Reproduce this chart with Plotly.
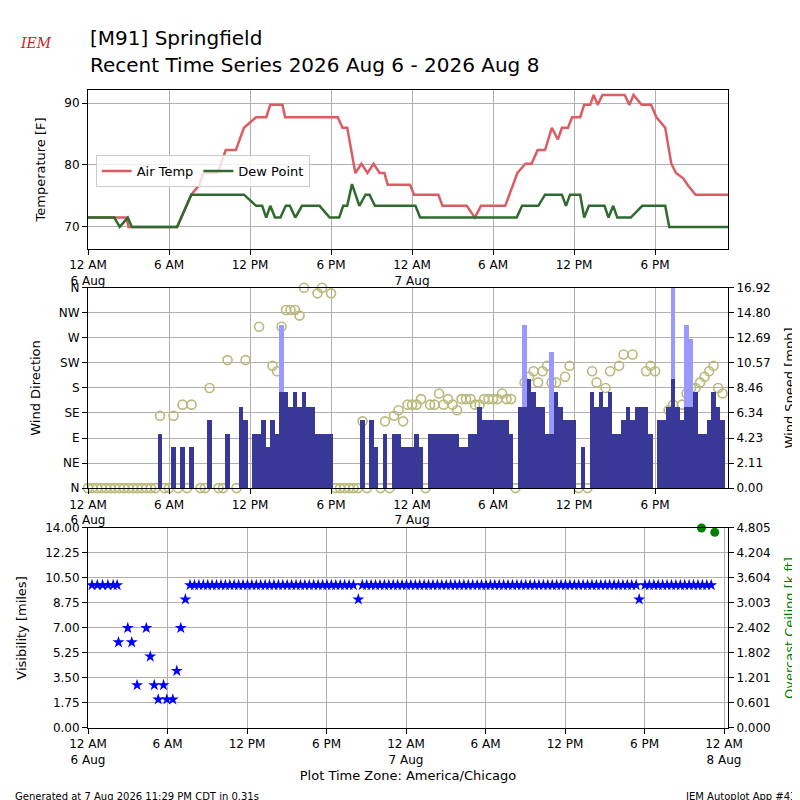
import plotly.graph_objects as go

# ---------------- data ----------------
temp_hours = [0,2.85,3.0,6.6,7.65,8.25,8.55,9.6,10.2,10.95,11.55,12.45,13.2,13.5,14.4,14.6,18.5,18.85,19.2,19.8,20.25,20.7,21.15,21.6,21.95,22.2,23.85,24.15,25.95,26.25,28.05,28.65,29.1,30.9,31.8,32.4,32.85,33.3,33.85,34.35,34.8,35.1,35.55,35.85,36.45,36.75,37.2,37.45,37.75,38.1,39.75,40.1,40.4,41.0,41.7,42.1,42.75,43.2,43.55,44.1,44.4,45.0,45.6,47.4]
temp_vals = [71.5,71.5,70,70,75.2,76.8,78.7,78.7,82.4,82.4,86,87.7,87.7,89.7,89.7,87.7,87.7,86,86,78.7,80.2,78.7,80.2,78.7,78.7,76.8,76.8,75.2,75.2,73.4,73.4,71.5,73.4,73.4,78.7,80.2,80.2,82.4,82.4,86,84.1,86,86,87.7,87.7,89.7,89.7,91.3,89.7,91.3,91.3,89.7,91.3,89.7,89.7,87.7,86,80.2,78.7,77.8,76.8,75.2,75.2,75.2]
dew_hours = [0,1.95,2.35,2.95,3.25,6.6,7.65,11.55,12.45,12.9,13.2,13.5,13.85,14.25,14.65,14.95,15.35,15.85,17.15,17.9,18.6,18.9,19.2,19.55,20.1,20.55,20.85,21.25,24.25,24.6,31.75,32.15,33.35,33.85,35.1,35.4,35.7,36.45,36.75,37.1,38.25,38.55,38.9,39.2,40.2,41.05,42.75,43.05,47.4]
dew_vals = [71.5,71.5,70,71.5,70,70,75.2,75.2,73.4,73.4,71.5,73.4,71.5,71.5,73.4,73.4,71.5,73.4,73.4,71.5,71.5,73.4,73.4,76.9,73.4,75.2,75.2,73.4,73.4,71.5,71.5,73.4,73.4,75.2,75.2,73.4,75.2,75.2,71.5,73.4,73.4,71.5,73.4,71.5,71.5,73.4,73.4,70,70]

# wind observations every 20 minutes (slot index / 3 = hour)
wind_speed = [0]*16 + [4.6,0,0,3.5,0,3.5,0,3.5,0,0,0,5.8,0,0,0,4.6,0,0,6.9,5.8,0,
    4.6,4.6,5.8,3.5,5.8,4.6,8.1,8.1,6.9,8.1,6.9,8.1,6.9,6.9,4.6,4.6,4.6,4.6,
    0,0,0,0,0,0,5.8,0,5.8,3.5,0,4.6,0,4.6,4.6,3.5,3.5,3.5,4.6,3.5,0,
    4.6,4.6,4.6,4.6,4.6,4.6,4.6,3.5,3.5,4.6,4.6,6.9,5.8,5.8,5.8,5.8,5.8,5.8,4.6,0,
    6.9,6.9,9.2,8.1,6.9,6.9,4.6,4.6,8.1,6.9,5.8,5.8,5.8,0,3.5,0,
    8.1,6.9,8.1,6.9,8.1,4.6,4.6,5.8,6.9,5.8,6.9,6.9,6.9,4.6,0,
    5.8,5.8,6.9,9.2,6.9,5.8,6.9,6.9,8.1,4.6,4.6,5.8,8.1,6.9,5.8]
N = None
wind_dir = [0]*16 + [130,0,0,130,0,150,0,150,N,0,0,180,N,0,0,230,N,0,N,230,N,
    N,290,N,N,220,210,290,320,320,320,310,360,N,10,350,360,N,350,
    0,0,0,0,0,0,120,0,N,N,0,120,0,130,140,120,150,150,150,160,0,
    150,150,170,150,160,150,140,160,160,160,150,150,160,160,160,160,170,160,160,0,
    N,190,200,210,190,210,220,190,190,N,200,220,N,0,N,0,
    210,190,N,180,210,N,220,240,N,240,N,N,210,220,210,
    N,N,140,150,N,150,170,180,180,190,200,210,220,180,170]
gust_slots = [43,97,103,130,133,134]
gust_vals = [13.8,13.8,11.5,16.9,13.8,12.6]

vis_hours = [0.3,0.7,1.1,1.5,1.9,2.2,2.3,3.0,3.3,3.7,4.4,4.7,5.0,5.3,5.7,5.95,6.4,6.7,7.0,7.35,20.4,41.6]
vis_vals = [10,10,10,10,10,10,6,7,6,3,7,5,3,2,3,2,2,4,7,9,9,9]
vis10_start, vis10_end = 7.7, 47.3   # steady 10 mile reports every 20 min
ceil_hours = [46.3, 47.3]
ceil_vals = [4.805, 4.70]

# ---------------- build ----------------
slot_h = 1/3
wh = [i*slot_h for i in range(len(wind_speed))]
dh = [i*slot_h for i in range(len(wind_dir))]
v10h = []
h = vis10_start
while h <= vis10_end:
    if abs(h-20.4) > 0.15 and abs(h-41.6) > 0.15:
        v10h.append(h)
    h += slot_h
vx = vis_hours + v10h
vy = vis_vals + [10]*len(v10h)

fig = go.Figure()
fig.add_trace(go.Scatter(x=temp_hours, y=temp_vals, mode='lines', name='Air Temp',
                         line=dict(color='#dc5c64', width=2.5), xaxis='x', yaxis='y'))
fig.add_trace(go.Scatter(x=dew_hours, y=dew_vals, mode='lines', name='Dew Point',
                         line=dict(color='#2f6a2f', width=2.5), xaxis='x', yaxis='y'))
fig.add_trace(go.Bar(x=[s*slot_h for s in gust_slots], y=gust_vals, width=slot_h,
                     marker=dict(color='#9999ff', line_width=0), showlegend=False,
                     xaxis='x2', yaxis='y3'))
fig.add_trace(go.Bar(x=wh, y=wind_speed, width=slot_h,
                     marker=dict(color='#383897', line_width=0), showlegend=False,
                     xaxis='x2', yaxis='y3'))
fig.add_trace(go.Scatter(x=dh, y=wind_dir, mode='markers', showlegend=False, cliponaxis=False,
                         marker=dict(symbol='circle-open', size=9, color='#b9b97a', line=dict(width=1.6)),
                         xaxis='x2', yaxis='y2'))
fig.add_trace(go.Scatter(x=vx, y=vy, mode='markers', showlegend=False,
                         marker=dict(symbol='star', size=9, color='blue'),
                         xaxis='x3', yaxis='y4'))
fig.add_trace(go.Scatter(x=ceil_hours, y=ceil_vals, mode='markers', showlegend=False,
                         marker=dict(size=9, color='green'), cliponaxis=False,
                         xaxis='x3', yaxis='y5'))

tv = [0,6,12,18,24,30,36,42]
tt = ['12 AM<br>6 Aug','6 AM','12 PM','6 PM','12 AM<br>7 Aug','6 AM','12 PM','6 PM']
axcommon = dict(showline=True, linecolor='black', mirror=True, gridcolor='#b0b0b0',
                ticks='outside', tickcolor='black', zeroline=False, automargin=False,
                tickfont=dict(size=12, color='black'))
d1, d2, d3 = [0.751, 1.0], [0.376, 0.69], [0.0, 0.3135]
fig.update_layout(
    width=800, height=800, plot_bgcolor='white', paper_bgcolor='white',
    margin=dict(l=80, r=80, t=82, b=80, autoexpand=False), barmode='overlay', bargap=0,
    font=dict(family='DejaVu Sans', color='black'),
    legend=dict(orientation='h', x=0.012, y=0.898, xanchor='left', yanchor='top',
                bordercolor='#cccccc', borderwidth=1, bgcolor='rgba(255,255,255,0.8)',
                font=dict(size=13)),
    xaxis=dict(axcommon, domain=[0,1], anchor='y', range=[0,47.4], tickvals=tv, ticktext=tt),
    yaxis=dict(axcommon, domain=d1, anchor='x', range=[66.45,92.1], tickvals=[70,80,90],
               title=dict(text='Temperature [F]', font=dict(size=13))),
    xaxis2=dict(axcommon, domain=[0,1], anchor='y2', range=[0,47.4], tickvals=tv, ticktext=tt),
    yaxis2=dict(axcommon, domain=d2, anchor='x2', range=[0,360], tickvals=list(range(0,361,45)),
                ticktext=['N','NE','E','SE','S','SW','W','NW','N'],
                title=dict(text='Wind Direction', font=dict(size=13))),
    yaxis3=dict(axcommon, overlaying='y2', side='right', anchor='x2', range=[0,16.92],
                tickvals=[i*2.115 for i in range(9)],
                ticktext=['0.00','2.11','4.23','6.34','8.46','10.57','12.69','14.80','16.92'],
                showgrid=False, title=dict(text='Wind Speed [mph]', font=dict(size=13))),
    xaxis3=dict(axcommon, domain=[0,1], anchor='y4', range=[0,48.3], tickvals=tv+[48],
                ticktext=tt+['12 AM<br>8 Aug'],
                title=dict(text='Plot Time Zone: America/Chicago', font=dict(size=13), standoff=4)),
    yaxis4=dict(axcommon, domain=d3, anchor='x3', range=[0,14], tickvals=[i*1.75 for i in range(9)],
                tickformat='.2f', title=dict(text='Visibility [miles]', font=dict(size=13))),
    yaxis5=dict(axcommon, overlaying='y4', side='right', anchor='x3', range=[0,4.805],
                tickvals=[i*4.805/8 for i in range(9)],
                ticktext=['0.000','0.601','1.201','1.802','2.402','3.003','3.604','4.204','4.805'],
                showgrid=False, title=dict(text='Overcast Ceiling [k ft]', font=dict(size=13, color='green'))),
)
fig.add_annotation(text='[M91] Springfield', xref='paper', yref='paper', x=0.0, y=1.081,
                   xanchor='left', yanchor='middle', showarrow=False, font=dict(size=20))
fig.add_annotation(text='Recent Time Series 2026 Aug 6 - 2026 Aug 8', xref='paper', yref='paper',
                   x=0.0, y=1.039, xanchor='left', yanchor='middle', showarrow=False, font=dict(size=20))
fig.add_annotation(text='<i>IEM</i>', xref='paper', yref='paper', x=-0.11, y=1.074,
                   xanchor='left', yanchor='middle', showarrow=False,
                   font=dict(size=14, color='#cc2222', family='DejaVu Serif'))
fig.add_annotation(text='Generated at 7 Aug 2026 11:29 PM CDT in 0.31s', xref='paper', yref='paper',
                   x=-0.117, y=-0.107, xanchor='left', yanchor='middle', showarrow=False, font=dict(size=10))
fig.add_annotation(text='IEM Autoplot App #43', xref='paper', yref='paper', x=1.11, y=-0.107,
                   xanchor='right', yanchor='middle', showarrow=False, font=dict(size=10))
fig.write_html('out.html')
